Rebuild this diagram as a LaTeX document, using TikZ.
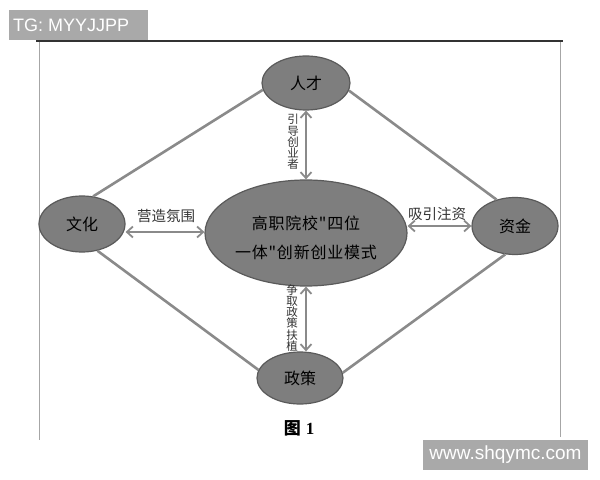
\documentclass[tikz,border=0pt]{standalone}
\usepackage{fontspec}
\setmainfont{Liberation Sans}
\newfontfamily\cjk{Noto Sans CJK SC}
\newfontfamily\cjkwide{Noto Sans CJK SC}[LetterSpace=5]
\newfontfamily\serifnum{Liberation Serif}
\usetikzlibrary{shapes.geometric,arrows.meta}
\definecolor{ellfill}{HTML}{7E7E7E}
\definecolor{elldraw}{HTML}{5A5A5A}
\definecolor{linegray}{HTML}{8A8A8A}
\definecolor{wmgray}{HTML}{A9A9A9}
\begin{document}
\begin{tikzpicture}[x=1bp,y=-1bp,
  ell/.style={ellipse, draw=elldraw, line width=1.2bp, fill=ellfill, inner sep=0pt,
    font=\cjk\fontsize{16bp}{19bp}\selectfont, text=black, align=center},
  edgeline/.style={draw=linegray, line width=2.6bp},
  arr/.style={draw=linegray, line width=1.8bp, {Straight Barb[length=6bp,width=11bp]}-{Straight Barb[length=6bp,width=11bp]}},
  lab/.style={font=\cjk\fontsize{14.5bp}{16bp}\selectfont, text=black!80, inner sep=0pt},
  vlab/.style={font=\cjk\fontsize{11.5bp}{11.2bp}\selectfont, text=black!80, inner sep=0pt, align=center},
  wm/.style={fill=wmgray, text=white, font=\fontsize{18bp}{20bp}\selectfont, inner sep=0pt, anchor=north west}
]
\useasboundingbox (0,0) rectangle (600,480);
\fill[white] (0,0) rectangle (600,480);
% frame
\draw[black!35, line width=1bp] (39.5,41) -- (39.5,440);
\draw[black!35, line width=1bp] (560.5,41) -- (560.5,437);
\draw[black!80, line width=1.5bp] (36,41) -- (563,41);
% nodes
\node[ell, minimum width=88bp, minimum height=54bp] (ren) at (306,83) {人才};
\node[ell, minimum width=86bp, minimum height=56bp] (wen) at (82,224) {文化};
\node[ell, minimum width=86bp, minimum height=57bp] (zi) at (515,226) {资金};
\node[ell, minimum width=86bp, minimum height=52bp] (zheng) at (300,378) {政策};
\node[ell, minimum width=202bp, minimum height=106bp, font=\cjkwide\fontsize{16bp}{19bp}\selectfont] (mid) at (306,233) {\rule{0pt}{24bp}高职院校"四位\\[10bp]一体"创新创业模式};
% diamond edges
\draw[edgeline] (wen.68) -- (ren.189);
\draw[edgeline] (ren.-10) -- (zi.125);
\draw[edgeline] (wen.-60) -- (zheng.169);
\draw[edgeline] (zi.251) -- (zheng.7);
% arrows
\draw[arr] (ren.south) -- (mid.north);
\draw[arr] (mid.south) -- (mid.south |- zheng.north);
\draw[arr] ([yshift=-8bp]wen.east) -- ([yshift=1bp]mid.west);
\draw[arr] ([yshift=7bp]mid.east) -- ([yshift=0bp]zi.west);
% labels
\node[lab] (l1) at (166,216) {营造氛围};
\node[lab] (l2) at (437,214) {吸引注资};
\node[vlab] (l3) at (293,142) {引\\导\\创\\业\\者};
\node[vlab] (l4) at (292,318) {争\\取\\政\\策\\扶\\植};
% caption
\node[inner sep=0pt, font=\fontsize{17bp}{19bp}\selectfont] (cap) at (299,428) {{\cjk\bfseries 图}\hspace{5bp}{\serifnum\bfseries 1}};
% watermarks
\node[wm, minimum width=139bp, minimum height=30bp] (tg) at (9,10) {};
\node[font=\fontsize{18bp}{20bp}\selectfont, text=white, inner sep=0pt, anchor=west] (tgt) at (13,25) {TG: MYYJJPP};
\node[wm, minimum width=165bp, minimum height=30bp] (www) at (423,440) {};
\node[font=\fontsize{19bp}{21bp}\selectfont, text=white, inner sep=0pt] (wwwt) at (505.5,455) {www.shqymc.com};
\end{tikzpicture}
\end{document}
